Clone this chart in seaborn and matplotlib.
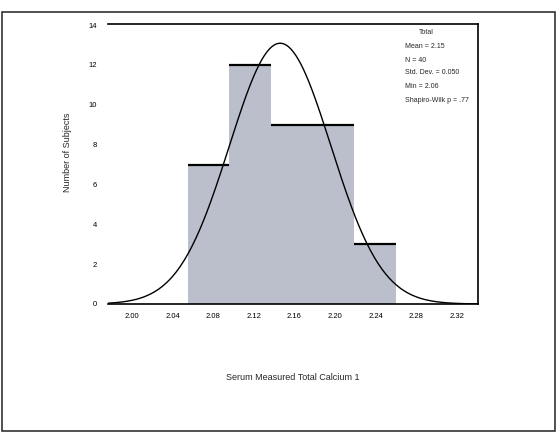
import numpy as np
import pandas as pd
import matplotlib
matplotlib.use("Agg")
import matplotlib.pyplot as plt
import seaborn as sns

# histogram bins (serum total calcium) and counts
bin_edges = [2.055, 2.096, 2.137, 2.178, 2.219, 2.260]
counts = [7, 12, 9, 9, 3]
x_ticks = [2.00, 2.04, 2.08, 2.12, 2.16, 2.20, 2.24, 2.28, 2.32]
y_ticks = [0, 2, 4, 6, 8, 10, 12, 14]
mean_val = 2.146
sd_val = 0.050
n_total = 40
stats_lines = ["Total", "Mean = 2.15", "N = 40", "Std. Dev. = 0.050",
               "Min = 2.06", "Shapiro-Wilk p = .77"]

sns.set_style("white")
plt.rcParams['font.family'] = ['Liberation Sans', 'DejaVu Sans']

fig = plt.figure(figsize=(5.58, 4.32), dpi=100)
ax = fig.add_axes([0.1935, 0.2963, 0.8566 - 0.1935, 0.9444 - 0.2963])

edges = np.array(bin_edges)
centers = (edges[:-1] + edges[1:]) / 2
df = pd.DataFrame({"calcium": centers, "n": counts})
sns.histplot(data=df, x="calcium", weights="n", bins=list(bin_edges), ax=ax,
             color="#bbbfcb", alpha=1, edgecolor="none", linewidth=0)
ax.hlines(counts, edges[:-1], edges[1:], color="black", lw=1.6)

# fitted normal curve scaled to counts
xs = np.linspace(1.9764, 2.3409, 300)
w = edges[1] - edges[0]
ys = n_total * w / (sd_val * np.sqrt(2 * np.pi)) * np.exp(-0.5 * ((xs - mean_val) / sd_val) ** 2)
ax.plot(xs, ys, color="black", lw=1.0)

ax.set_xlim(1.9764, 2.3409)
ax.set_ylim(0, 14.05)
ax.set_xticks(x_ticks)
ax.set_xticklabels([f"{t:.2f}" for t in x_ticks])
ax.set_yticks(y_ticks)
ax.tick_params(axis="both", direction="out", length=3.5, width=0.8,
               labelsize=5.5, colors="black", pad=3)
ax.tick_params(axis="y", length=5)
ax.spines["left"].set_visible(False)
for s in ["top", "right", "bottom"]:
    ax.spines[s].set_color("black")
    ax.spines[s].set_linewidth(1.2)

ax.set_xlabel("")
ax.set_ylabel("")
fig.text(68 / 558, 1 - 152 / 432, "Number of Subjects", rotation=90,
         ha="center", va="center", fontsize=6.5)
fig.text(293 / 558, 1 - 378 / 432, "Serum Measured Total Calcium 1",
         ha="center", va="center", fontsize=6.5)

ys_txt = [33, 47, 60, 73, 87, 100]
for i, (line, yp) in enumerate(zip(stats_lines, ys_txt)):
    if i == 0:
        fig.text(426 / 558, 1 - yp / 432, line, ha="center", va="center", fontsize=5)
    else:
        fig.text(405 / 558, 1 - yp / 432, line, ha="left", va="center", fontsize=5)

# outer frame
fig.patches.append(plt.Rectangle((2 / 558, 0.002), 553 / 558, (432 - 12 - 1) / 432,
                                 transform=fig.transFigure, fill=False,
                                 edgecolor="#333333", lw=1.2))

fig.savefig("out.png", dpi=100)
